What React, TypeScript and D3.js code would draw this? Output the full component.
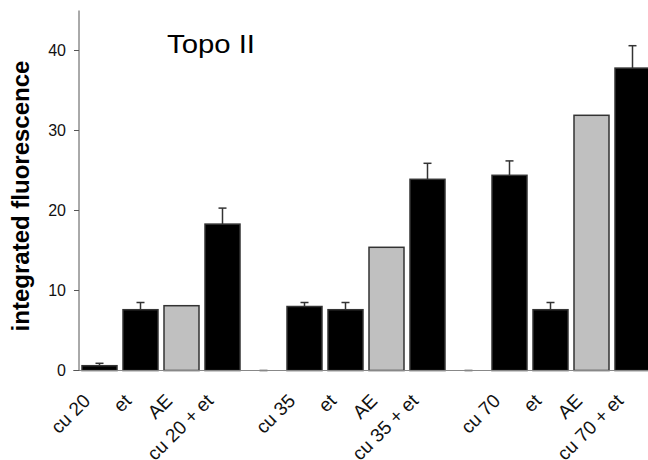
import React from 'react'
import * as d3 from 'd3'

// slots: empty string = spacer slot drawn as a zero bar
const categories = ['cu 20', 'et', 'AE', 'cu 20 + et', '', 'cu 35', 'et', 'AE', 'cu 35 + et', '', 'cu 70', 'et', 'AE', 'cu 70 + et']
const values = [0.6, 7.6, 8.1, 18.3, 0, 8.0, 7.6, 15.4, 23.9, 0, 24.4, 7.6, 31.9, 37.8]
const errors = [0.3, 0.9, null, 2.0, 0, 0.5, 0.9, null, 2.0, 0, 1.8, 0.9, null, 2.8]
const isGrey = [false, false, true, false, false, false, false, true, false, false, false, false, true, false]
const yTicks = [0, 10, 20, 30, 40]

const font = 'Liberation Sans, Arial, sans-serif'

const App = () => {
    const width = 648
    const height = 460

    const x = d3.scaleBand<number>()
                .domain(categories.map((_, i) => i))
                .range([82, 650])
                .paddingInner(6 / 41)
                .paddingOuter(0)

    const y = d3.scaleLinear()
                .domain([0, 45])
                .range([370.5, 10.5])

    const axisX = 79
    const capW = 8

    return (
        <svg width={width} height={height}
             style={{ position: 'absolute', left: 0, top: 0, background: '#fff' }}>
            {/* bars */}
            {values.map((v, i) => (
                <rect key={'b' + i}
                      x={x(i)} y={y(v)}
                      width={x.bandwidth()} height={y(0) - y(v)}
                      fill={isGrey[i] ? '#c0c0c0' : '#000'}
                      stroke="#333" strokeWidth={1.5} />
            ))}

            {/* error bars */}
            {errors.map((e, i) => {
                if (e === null) return null
                const cx = (x(i) as number) + x.bandwidth() / 2
                const top = y(values[i] + e)
                return (
                    <g key={'e' + i} stroke="#333" strokeWidth={1.5}>
                        <line x1={cx} x2={cx} y1={y(values[i])} y2={top} />
                        <line x1={cx - capW / 2} x2={cx + capW / 2} y1={top} y2={top} />
                    </g>
                )
            })}

            {/* x baseline */}
            <line x1={73} x2={width} y1={y(0)} y2={y(0)} stroke="#888" strokeWidth={1.2} />

            {/* y axis */}
            <line x1={axisX} x2={axisX} y1={y(45)} y2={y(0)} stroke="#555" strokeWidth={1} />
            {yTicks.map(t => (
                <g key={'t' + t}>
                    <line x1={axisX - 5} x2={axisX} y1={y(t)} y2={y(t)} stroke="#555" strokeWidth={1} />
                    <text x={66} y={y(t)} dy="0.35em" textAnchor="end"
                          fontFamily={font} fontSize={16} fill="#111">{t}</text>
                </g>
            ))}

            {/* category labels */}
            {categories.map((c, i) => {
                if (c === '') return null
                const lx = (x(i) as number) + x.bandwidth() / 2 - 8
                const ly = 402
                return (
                    <text key={'l' + i} x={lx} y={ly} textAnchor="end"
                          transform={`rotate(-45, ${lx}, ${ly})`}
                          fontFamily={font} fontSize={19} fill="#111">{c}</text>
                )
            })}

            {/* y label */}
            <text transform={`translate(29, 196) rotate(-90)`} textAnchor="middle"
                  fontFamily={font} fontSize={24} fontWeight="bold" fill="#000">
                integrated fluorescence
            </text>

            {/* title */}
            <text x={167} y={53} fontFamily={font} fontSize={25} fill="#000"
                  textLength={88} lengthAdjust="spacingAndGlyphs">Topo II</text>
        </svg>
    )
}

export default App
